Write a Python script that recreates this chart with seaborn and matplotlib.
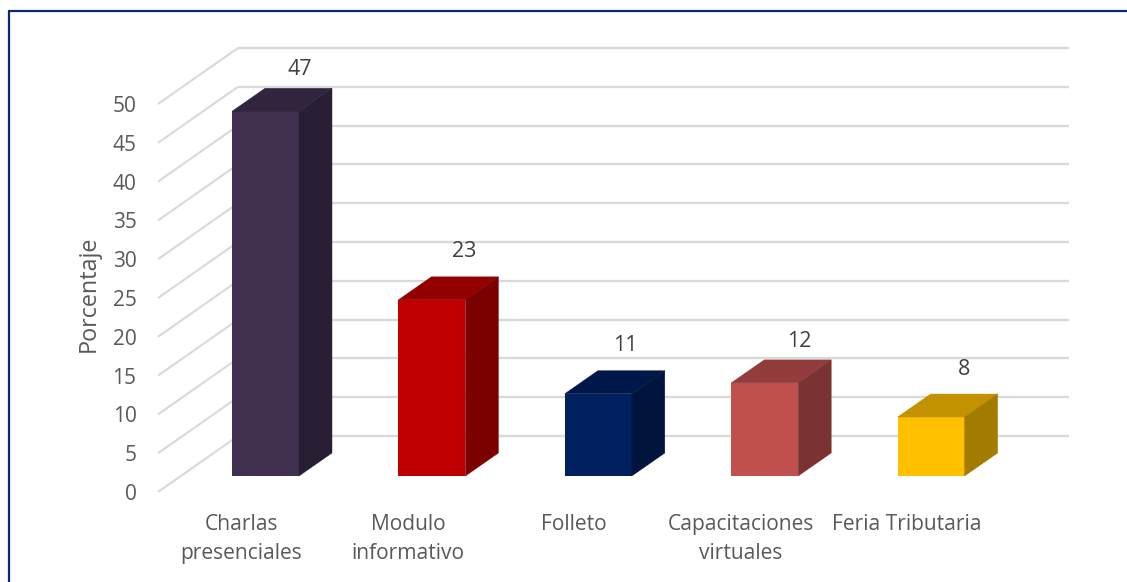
import matplotlib
matplotlib.use("Agg")
import matplotlib.pyplot as plt
import seaborn as sns
import pandas as pd
from matplotlib.colors import to_rgb
from matplotlib.lines import Line2D
from matplotlib.patches import Polygon

# datos
categorias = ["Charlas\npresenciales", "Modulo\ninformativo", "Folleto", "Capacitaciones\nvirtuales", "Feria Tributaria"]
porcentajes = [47, 22.7, 10.6, 12, 7.6]
colores = ["#403151", "#C00000", "#002060", "#C0504D", "#FFC000"]
ticks_y = [0, 5, 10, 15, 20, 25, 30, 35, 40, 45, 50]

# tamano de la imagen y posicion de los ejes, en pixeles
W, H = 1127, 582
X0, X1 = 158, 989
Y_FRENTE0, Y_FRENTE50 = 492, 104
Y_BARRA0 = 476
PASO = 166.4
CENTRO0 = 265.5
ETIQUETA0 = 241.5
FONDO_X, FONDO_Y = 80, 56
CUBO_X, CUBO_Y = 33, 23
GRIS = "#D9D9D9"
# ajuste de cada etiqueta respecto a la esquina superior de la barra
ajustes = [(1, 42), (-1, 48), (-7, 48), (1, 41), (-1, 48)]

sns.set_theme(style="white")
plt.rcParams["font.family"] = ["Open Sans", "DejaVu Sans"]

df = pd.DataFrame({"categoria": categorias, "porcentaje": porcentajes})

fig = plt.figure(figsize=(W / 100, H / 100), dpi=100)
alto = (Y_FRENTE0 - Y_FRENTE50) / H
ancho = (X1 - X0) / W

# plano frontal: ejes con las etiquetas y lineas de la cuadricula
ax = fig.add_axes([X0 / W, 1 - Y_FRENTE0 / H, ancho, alto])
ax.set_ylim(0, 50)
ax.set_xlim((X0 - ETIQUETA0) / PASO, (X1 - ETIQUETA0) / PASO)
ax.set_xticks(range(len(categorias)), categorias)
ax.set_yticks(ticks_y)
ax.tick_params(axis="y", length=0, pad=15.5, labelsize=15, labelcolor="#595959")
ax.tick_params(axis="x", length=0, pad=15.5, labelsize=15.1, labelcolor="#595959")
for t in ax.get_xticklabels():
    t.set_linespacing(1.5)
ax.set_ylabel("Porcentaje", fontsize=16.8, color="#595959")
ax.yaxis.set_label_coords(-57 / (X1 - X0), 0.51)
sns.despine(ax=ax, left=True, bottom=True, top=True, right=True)

px_unidad = (Y_FRENTE0 - Y_FRENTE50) / 50
fx = FONDO_X / (X1 - X0)
fy = FONDO_Y / px_unidad
trans = ax.get_yaxis_transform()
for v in ticks_y:
    ax.plot([0, fx], [v, v + fy], color=GRIS, lw=1.5, transform=trans, clip_on=False, solid_capstyle="butt")
    ax.plot([fx, 1 + fx], [v + fy, v + fy], color=GRIS, lw=1.7, transform=trans, clip_on=False, solid_capstyle="butt")

# barras, desplazadas sobre el piso
ax2 = fig.add_axes([X0 / W, 1 - Y_BARRA0 / H, ancho, alto])
sns.barplot(data=df, x="categoria", y="porcentaje", hue="categoria", palette=colores,
            width=67 / PASO, dodge=False, saturation=1, legend=False, linewidth=0, ax=ax2)
ax2.set_xlim((X0 - CENTRO0) / PASO, (X1 - CENTRO0) / PASO)
ax2.set_ylim(0, 50)
ax2.axis("off")

cx = CUBO_X / PASO
cy = CUBO_Y / px_unidad
barras = [b for b in ax2.patches if b.get_height() > 0]
for b, color, (ajx, ajy), valor in zip(barras, colores, ajustes, porcentajes):
    x0, x1 = b.get_x(), b.get_x() + b.get_width()
    h = b.get_height()
    rgb = to_rgb(color)
    tapa = tuple(c * 0.76 for c in rgb)
    lado = tuple(c * 0.64 for c in rgb)
    ax2.add_patch(Polygon([(x0, h), (x1, h), (x1 + cx, h + cy), (x0 + cx, h + cy)],
                          facecolor=tapa, edgecolor=tapa, lw=0.3, clip_on=False))
    ax2.add_patch(Polygon([(x1, 0), (x1 + cx, cy), (x1 + cx, h + cy), (x1, h)],
                          facecolor=lado, edgecolor=lado, lw=0.3, clip_on=False))
    ax2.annotate(f"{valor:.0f}", (x1, h), xytext=(ajx, ajy), textcoords="offset pixels",
                 ha="center", va="center", fontsize=15.5, color="#404040", annotation_clip=False)

# marco azul de la figura
for xs, ys in [([8.5, 8.5], [11, H]), ([8.5, W], [11, 11])]:
    fig.add_artist(Line2D([x / W for x in xs], [1 - y / H for y in ys], color="#0B2A6F", lw=1.6))

fig.savefig("out.png", dpi=100)
